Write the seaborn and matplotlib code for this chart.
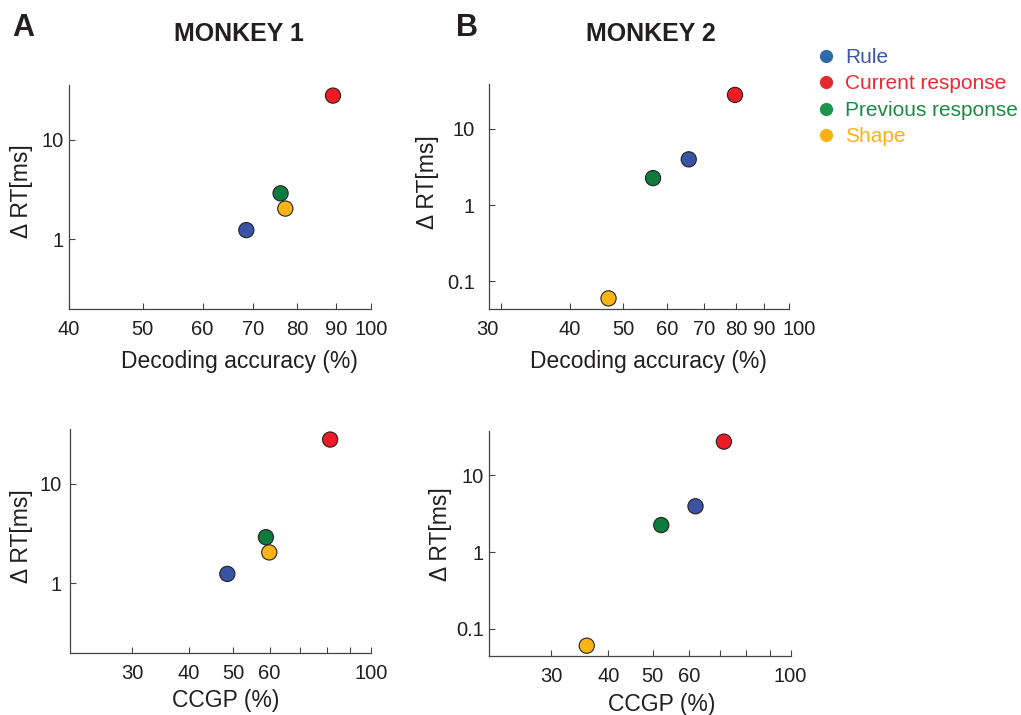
import seaborn as sns
import pandas as pd
import matplotlib.pyplot as plt
from matplotlib.lines import Line2D
from matplotlib.transforms import ScaledTranslation

# datos
variables = ["Rule", "Current response", "Previous response", "Shape"]

m1_decoding = [68.5, 89.1, 76.0, 77.1]
m1_ccgp = [48.5, 81.4, 58.9, 59.9]
m1_drt = [1.24, 27.8, 2.9, 2.04]

m2_decoding = [65.7, 79.7, 56.6, 47.0]
m2_ccgp = [62.0, 71.5, 52.2, 35.9]
m2_drt = [3.96, 27.6, 2.25, 0.06]

colores = {"Rule": "#3a53a4", "Current response": "#ed1c24",
           "Previous response": "#0b7c3e", "Shape": "#fcb316"}
colores_leyenda = ["#2e6aa8", "#df2a2e", "#1e9448", "#fbb116"]
colores_texto = ["#3d55a5", "#ee2a2f", "#1b8a45", "#fbb116"]

sns.set_style("ticks")
plt.rcParams["font.family"] = ["Liberation Sans", "DejaVu Sans"]
gris = "#231f20"

fig = plt.figure(figsize=(10.21, 7.15), dpi=100)

paneles = [
    # posicion, x, y, xlim, ylim, xticks, xlabels, yticks, xlabel, pad y, coords ylabel, coords xlabel
    ([0.0676, 0.5678, 0.2958, 0.3133], m1_decoding, m1_drt, (40, 100), (0.2, 35.5),
     [40, 50, 60, 70, 80, 90, 100], ["40", "50", "60", "70", "80", "90", "100"],
     [1, 10], "Decoding accuracy (%)", 4, (-0.119, 0.525), (0.563, -0.183)),
    ([0.4787, 0.5683, 0.2944, 0.3138], m2_decoding, m2_drt, (28.5, 100), (0.044, 38),
     [30, 40, 50, 60, 70, 80, 90, 100], ["30", "40", "50", "60", "70", "80", "90", "100"],
     [0.1, 1, 10], "Decoding accuracy (%)", 10, (-0.165, 0.562), (0.53, -0.183)),
    ([0.0689, 0.0871, 0.2945, 0.3129], m1_ccgp, m1_drt, (22, 100), (0.2, 35.5),
     [30, 40, 50, 60, 70, 80, 90, 100], ["30", "40", "50", "60", "", "", "", "100"],
     [1, 10], "CCGP (%)", 6, (-0.124, 0.52), (0.518, -0.163)),
    ([0.4792, 0.0825, 0.2952, 0.3147], m2_ccgp, m2_drt, (22, 100), (0.044, 38),
     [30, 40, 50, 60, 70, 80, 90, 100], ["30", "40", "50", "60", "", "", "", "100"],
     [0.1, 1, 10], "CCGP (%)", 4, (-0.124, 0.54), (0.571, -0.165)),
]

ejes = []
for pos, xs, ys, xlim, ylim, xticks, xlabels, yticks, xlabel, ypad, ycoord, xcoord in paneles:
    ax = fig.add_axes(pos)
    df = pd.DataFrame({"x": xs, "y": ys, "var": variables})
    sns.scatterplot(data=df, x="x", y="y", hue="var", palette=colores, s=120,
                    edgecolor="#222222", linewidth=0.8, legend=False, ax=ax,
                    zorder=3, clip_on=False)
    ax.set_xscale("log")
    ax.set_yscale("log")
    ax.set_xlim(*xlim)
    ax.set_ylim(*ylim)
    ax.set_xticks(xticks)
    ax.set_xticklabels(xlabels)
    ax.set_yticks(yticks)
    ax.set_yticklabels([f"{t:g}" for t in yticks])
    ax.minorticks_off()
    ax.tick_params(direction="in", length=4, width=0.8, colors="#444444",
                   labelcolor=gris, labelsize=14.5)
    ax.tick_params(axis="x", pad=8)
    ax.tick_params(axis="y", pad=ypad)
    sns.despine(ax=ax)
    for s in ["left", "bottom"]:
        ax.spines[s].set_color("#444444")
        ax.spines[s].set_linewidth(0.9)
    ax.set_xlabel(xlabel, fontsize=16.5, color=gris)
    ax.set_ylabel("Δ RT[ms]", fontsize=16.5, color=gris)
    ax.yaxis.set_label_coords(*ycoord)
    ax.xaxis.set_label_coords(*xcoord)
    ejes.append(ax)

# en B el "30" queda a la izquierda y el "100" se corre a la derecha
etiquetas_b = ejes[1].get_xticklabels()
etiquetas_b[0].set_transform(etiquetas_b[0].get_transform()
                             + ScaledTranslation(-14 / 100, 0, fig.dpi_scale_trans))
etiquetas_b[-1].set_transform(etiquetas_b[-1].get_transform()
                              + ScaledTranslation(10 / 100, 0, fig.dpi_scale_trans))

# titulos y letras
fig.text(238.5 / 1021, 1 - 34 / 715, "MONKEY 1", ha="center", va="center",
         fontsize=18, fontweight="bold", color=gris)
fig.text(650.5 / 1021, 1 - 34 / 715, "MONKEY 2", ha="center", va="center",
         fontsize=18, fontweight="bold", color=gris)
fig.text(12 / 1021, 1 - 28 / 715, "A", ha="left", va="center",
         fontsize=22, fontweight="bold", color=gris)
fig.text(456 / 1021, 1 - 28 / 715, "B", ha="left", va="center",
         fontsize=22, fontweight="bold", color=gris)

# leyenda
handles = [Line2D([], [], marker="o", linestyle="", markersize=9.5,
                  markerfacecolor=c, markeredgecolor="none") for c in colores_leyenda]
leg = fig.legend(handles, variables, loc="upper left", bbox_to_anchor=(0.799, 0.933),
                 frameon=False, fontsize=15, handlelength=1.0, handletextpad=0.41,
                 labelspacing=0.36, borderpad=0, borderaxespad=0)
for t, c in zip(leg.get_texts(), colores_texto):
    t.set_color(c)

plt.savefig("out.png", dpi=100)
